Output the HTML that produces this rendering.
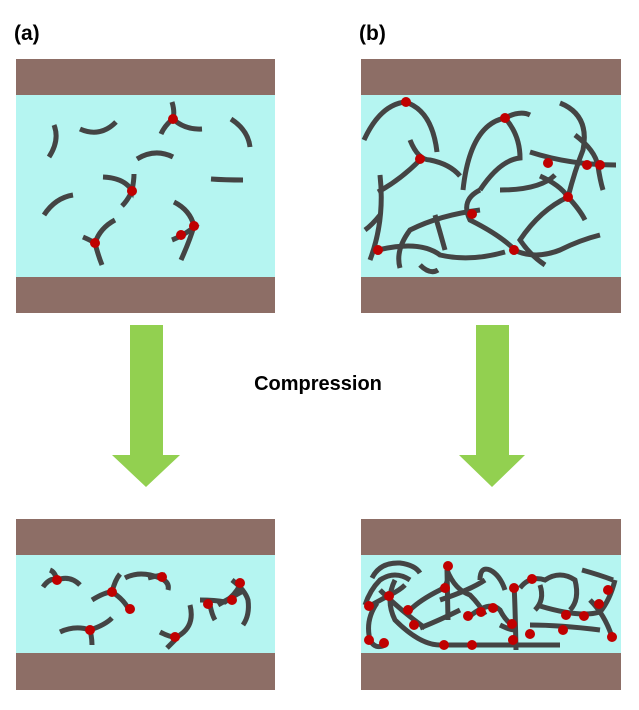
<!DOCTYPE html>
<html><head><style>body{margin:0;background:#fff}svg{display:block}</style></head><body>
<svg width="639" height="710" xmlns="http://www.w3.org/2000/svg" font-family="Liberation Sans, sans-serif">
<rect width="639" height="710" fill="#fff"/>
<text x="14" y="40" font-size="21" font-weight="bold">(a)</text>
<text x="359" y="40" font-size="21" font-weight="bold">(b)</text>
<text x="318" y="390" font-size="20" font-weight="bold" text-anchor="middle">Compression</text>
<g fill="#8d6e66">
<rect x="16" y="59" width="259" height="36"/><rect x="16" y="277" width="259" height="36"/>
<rect x="361" y="59" width="260" height="36"/><rect x="361" y="277" width="260" height="36"/>
<rect x="16" y="519" width="259" height="36"/><rect x="16" y="653" width="259" height="37"/>
<rect x="361" y="519" width="260" height="36"/><rect x="361" y="653" width="260" height="37"/>
</g>
<g fill="#b5f5f1">
<rect x="16" y="95" width="259" height="182"/><rect x="361" y="95" width="260" height="182"/>
<rect x="16" y="555" width="259" height="98"/><rect x="361" y="555" width="260" height="98"/>
</g>
<g fill="#92d050">
<polygon points="130,325 163,325 163,455 180,455 146,487 112,455 130,455"/>
<polygon points="476,325 509,325 509,455 525,455 492,487 459,455 476,455"/>
</g>
<g fill="none" stroke="#444" stroke-width="5" stroke-linecap="butt">
<path d="M54,125 Q60,140 49,157"/><path d="M80,129 Q100,138 116,122"/>
<path d="M172,102 Q175,112 173,119 Q165,125 161,134"/><path d="M173,119 Q185,130 202,129"/>
<path d="M231,119 Q248,130 250,147"/><path d="M137,159 Q155,148 173,157"/>
<path d="M103,177 Q125,178 132,191 Q134,180 134,174"/><path d="M132,191 Q128,200 122,206"/>
<path d="M44,215 Q55,198 73,195"/><path d="M211,179 Q225,180 243,180"/>
<path d="M174,202 Q190,210 194,226 Q190,240 181,260"/><path d="M172,240 Q185,235 198,224"/>
<path d="M115,220 Q100,228 95,243 Q98,255 102,265"/><path d="M83,237 Q90,240 95,243"/>
<path d="M364,140 Q380,105 405,102"/><path d="M405,102 Q432,110 437,152"/>
<path d="M410,140 Q418,160 430,160 Q450,164 460,176"/><path d="M420,160 Q400,180 378,192"/>
<path d="M505,118 Q470,125 463,190"/><path d="M505,118 Q520,135 520,158 Q500,160 480,190"/>
<path d="M480,190 Q460,200 470,220 Q500,235 515,250"/><path d="M505,118 Q520,110 530,115"/>
<path d="M560,103 Q590,115 583,150 Q575,170 568,197"/><path d="M530,152 Q570,165 616,165"/>
<path d="M575,135 Q595,150 598,166 Q600,180 603,190"/><path d="M540,176 Q560,185 568,197 Q580,210 585,220"/>
<path d="M568,197 Q540,210 520,240 Q530,255 545,265"/><path d="M500,190 Q540,190 555,175"/>
<path d="M480,210 Q440,215 410,230 Q395,250 400,268"/><path d="M370,260 Q385,220 380,175"/>
<path d="M378,250 Q420,240 440,255 Q470,262 505,252"/><path d="M420,265 Q430,275 438,270"/>
<path d="M514,250 Q535,260 560,250 Q580,240 600,235"/><path d="M380,215 Q372,225 365,230"/>
<path d="M435,215 Q440,232 445,250"/>
<path d="M43,587 Q50,577 57,580 Q70,575 80,585"/><path d="M57,580 Q55,572 50,570"/>
<path d="M92,600 Q105,592 112,592 Q125,600 130,612"/><path d="M112,592 Q115,580 120,574"/>
<path d="M125,578 Q140,570 160,578 Q170,582 168,590"/><path d="M148,578 Q160,575 165,575"/>
<path d="M60,632 Q75,625 90,630 Q105,625 112,618"/><path d="M90,630 Q92,638 92,645"/>
<path d="M160,632 Q175,640 180,635 Q195,625 190,605"/><path d="M175,640 Q170,645 167,648"/>
<path d="M200,600 Q215,600 225,602 Q235,595 240,585"/><path d="M210,605 Q212,615 215,620"/>
<path d="M232,580 Q245,590 248,600 Q250,615 243,625"/><path d="M218,605 Q230,598 245,590"/>
<path d="M372,578 Q380,562 400,563 Q415,565 420,573"/><path d="M377,603 Q365,620 370,640 Q375,650 385,645"/>
<path d="M368,607 Q380,600 390,595 Q400,590 405,585"/><path d="M395,580 Q385,600 395,620 Q420,645 440,645 L560,645"/>
<path d="M410,610 Q420,600 440,590 Q450,585 447,570 L448,620"/><path d="M447,570 Q455,590 470,595 Q480,605 485,615"/>
<path d="M505,590 Q500,575 490,570 Q480,566 480,580"/><path d="M514,585 Q515,600 516,650"/>
<path d="M520,588 Q530,575 545,580 Q560,570 575,580 Q580,600 570,610"/><path d="M540,606 Q580,618 600,612 Q610,600 615,580"/>
<path d="M530,625 Q560,625 600,630"/><path d="M582,570 Q600,575 613,580"/><path d="M500,625 Q510,630 515,630"/>
<path d="M440,600 Q470,590 485,580"/><path d="M380,590 Q400,610 425,628"/>
<path d="M365,605 Q370,590 380,580 Q395,570 410,580"/><path d="M470,616 Q490,600 500,610 Q505,620 512,625"/>
<path d="M540,585 Q545,600 535,610"/><path d="M590,600 Q605,615 612,637"/><path d="M420,628 Q440,620 460,610"/>
</g>
<g fill="#c00000">
<circle cx="173" cy="119" r="5"/><circle cx="132" cy="191" r="5"/><circle cx="95" cy="243" r="5"/>
<circle cx="181" cy="235" r="5"/><circle cx="194" cy="226" r="5"/>
<circle cx="406" cy="102" r="5"/><circle cx="505" cy="118" r="5"/><circle cx="420" cy="159" r="5"/>
<circle cx="548" cy="163" r="5"/><circle cx="587" cy="165" r="5"/><circle cx="600" cy="165" r="5"/>
<circle cx="568" cy="197" r="5"/><circle cx="472" cy="214" r="5"/><circle cx="378" cy="250" r="5"/><circle cx="514" cy="250" r="5"/>
<circle cx="57" cy="580" r="5"/><circle cx="112" cy="592" r="5"/><circle cx="130" cy="609" r="5"/><circle cx="162" cy="577" r="5"/>
<circle cx="90" cy="630" r="5"/><circle cx="175" cy="637" r="5"/><circle cx="208" cy="604" r="5"/><circle cx="232" cy="600" r="5"/><circle cx="240" cy="583" r="5"/>
<circle cx="369" cy="606" r="5"/><circle cx="389" cy="596" r="5"/><circle cx="369" cy="640" r="5"/><circle cx="384" cy="643" r="5"/>
<circle cx="408" cy="610" r="5"/><circle cx="414" cy="625" r="5"/><circle cx="444" cy="645" r="5"/><circle cx="472" cy="645" r="5"/>
<circle cx="448" cy="566" r="5"/><circle cx="445" cy="588" r="5"/><circle cx="468" cy="616" r="5"/><circle cx="481" cy="612" r="5"/><circle cx="493" cy="608" r="5"/>
<circle cx="514" cy="588" r="5"/><circle cx="532" cy="579" r="5"/><circle cx="512" cy="624" r="5"/><circle cx="513" cy="640" r="5"/><circle cx="530" cy="634" r="5"/>
<circle cx="566" cy="615" r="5"/><circle cx="584" cy="616" r="5"/><circle cx="599" cy="604" r="5"/><circle cx="608" cy="590" r="5"/><circle cx="563" cy="630" r="5"/><circle cx="612" cy="637" r="5"/>
</g>
</svg>
</body></html>
